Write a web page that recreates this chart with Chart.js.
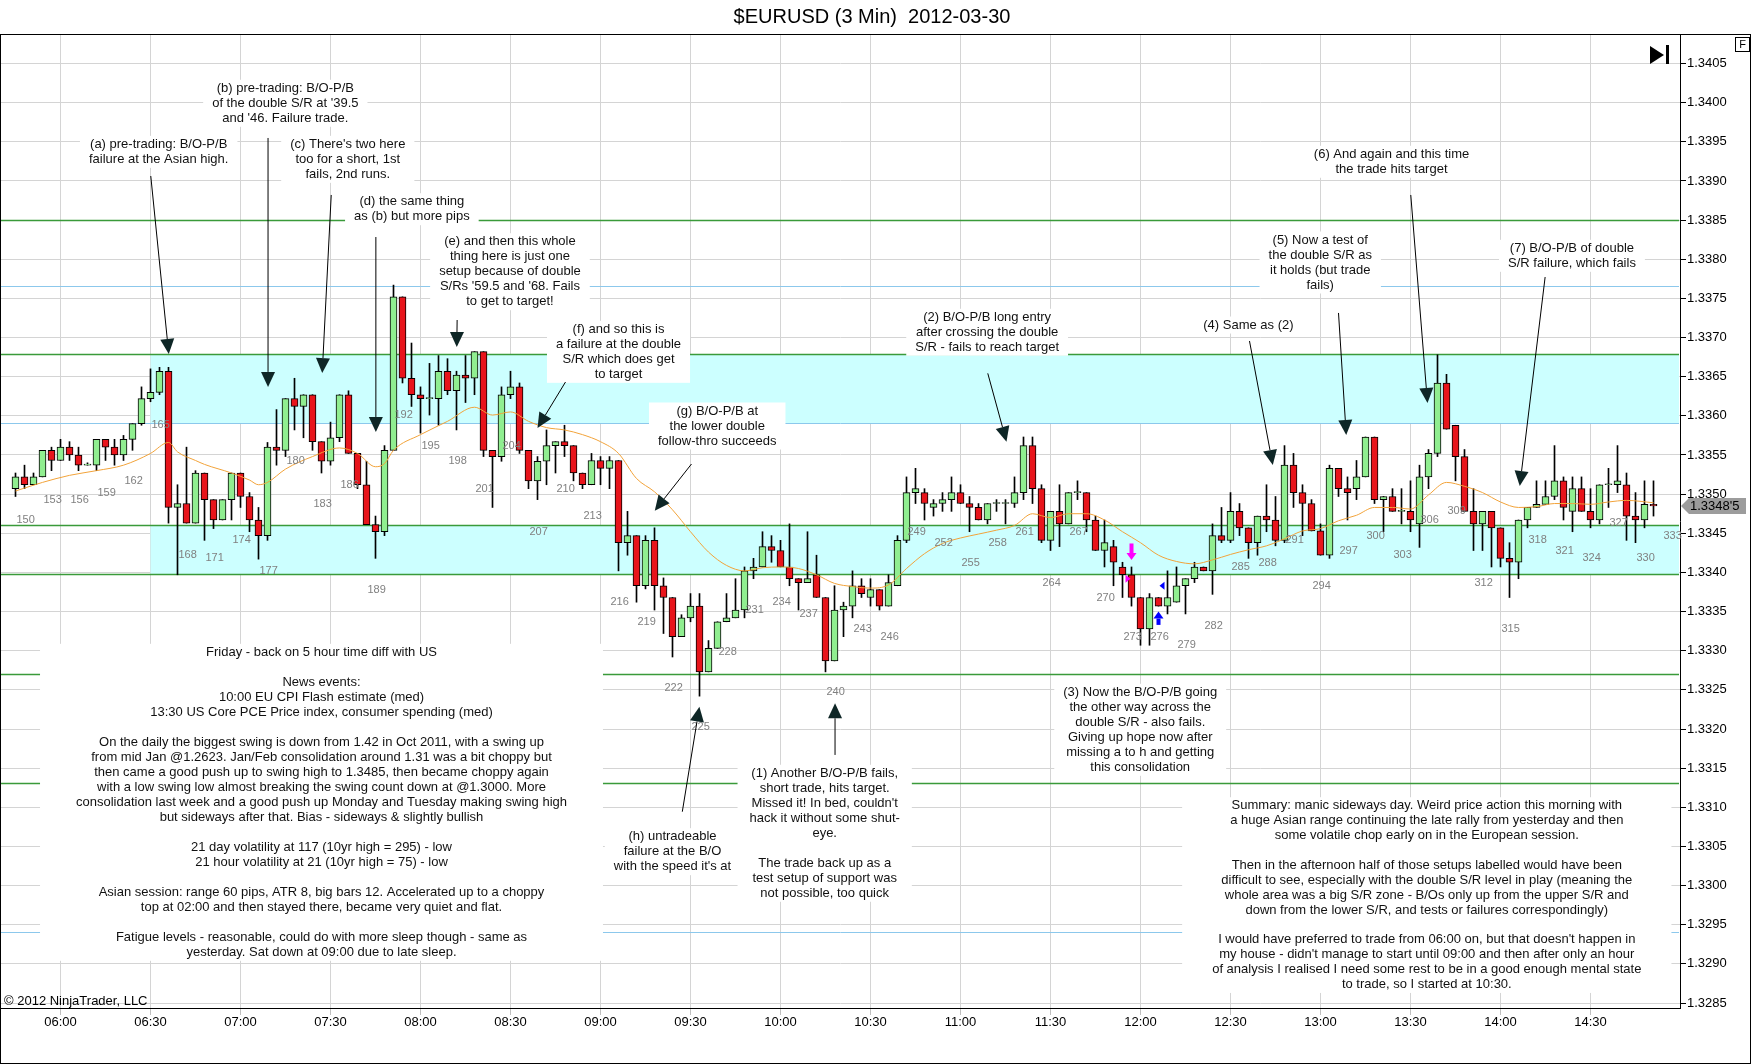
<!DOCTYPE html>
<html>
<head>
<meta charset="utf-8">
<title>$EURUSD (3 Min) 2012-03-30</title>
<script src="https://cdn.jsdelivr.net/npm/chart.js@4.4.1/dist/chart.umd.min.js"></script>
<style>
  html, body { margin: 0; padding: 0; background: #fff; }
  canvas { display: block; }
</style>
</head>
<body>
<canvas id="chart" width="1752" height="1064"></canvas>
<script>
// 3 minute bars, bar number 150 to 332
const firstBar = 150;
const openPrices = [
  1.33507, 1.33522, 1.33512, 1.33522, 1.33556, 1.33543, 1.33560, 1.33550, 1.33537, 1.33537,
  1.33570, 1.33560, 1.33550, 1.33570, 1.33590, 1.33622, 1.33630, 1.33657, 1.33483, 1.33488,
  1.33463, 1.33527, 1.33493, 1.33467, 1.33493, 1.33527, 1.33497, 1.33467, 1.33447, 1.33560,
  1.33556, 1.33622, 1.33612, 1.33627, 1.33567, 1.33542, 1.33572, 1.33627, 1.33552, 1.33512,
  1.33461, 1.33452, 1.33556, 1.33752, 1.33648, 1.33627, 1.33622, 1.33622, 1.33657, 1.33632,
  1.33652, 1.33648, 1.33682, 1.33556, 1.33548, 1.33627, 1.33637, 1.33556, 1.33517, 1.33542,
  1.33562, 1.33567, 1.33562, 1.33527, 1.33512, 1.33543, 1.33533, 1.33543, 1.33438, 1.33447,
  1.33383, 1.33441, 1.33383, 1.33368, 1.33318, 1.33342, 1.33357, 1.33273, 1.33303, 1.33337,
  1.33342, 1.33352, 1.33402, 1.33407, 1.33433, 1.33428, 1.33407, 1.33392, 1.33387, 1.33397,
  1.33368, 1.33287, 1.33352, 1.33357, 1.33383, 1.33368, 1.33378, 1.33357, 1.33383, 1.33441,
  1.33502, 1.33502, 1.33483, 1.33488, 1.33493, 1.33502, 1.33488, 1.33483, 1.33467, 1.33488,
  1.33488, 1.33488, 1.33502, 1.33562, 1.33507, 1.33441, 1.33478, 1.33462, 1.33502, 1.33502,
  1.33467, 1.33428, 1.33433, 1.33407, 1.33397, 1.33368, 1.33328, 1.33368, 1.33357, 1.33362,
  1.33383, 1.33392, 1.33407, 1.33402, 1.33447, 1.33441, 1.33478, 1.33457, 1.33438, 1.33472,
  1.33467, 1.33441, 1.33537, 1.33502, 1.33488, 1.33453, 1.33422, 1.33533, 1.33507, 1.33507,
  1.33522, 1.33573, 1.33493, 1.33497, 1.33478, 1.33478, 1.33462, 1.33522, 1.33552, 1.33642,
  1.33588, 1.33548, 1.33478, 1.33462, 1.33478, 1.33457, 1.33418, 1.33413, 1.33467, 1.33483,
  1.33487, 1.33497, 1.33517, 1.33478, 1.33507, 1.33478, 1.33467, 1.33512, 1.33512, 1.33512,
  1.33472, 1.33467, 1.33487
];
const highPrices = [
  1.33527, 1.33537, 1.33527, 1.33556, 1.33560, 1.33570, 1.33567, 1.33560, 1.33540, 1.33570,
  1.33570, 1.33570, 1.33575, 1.33590, 1.33637, 1.33660, 1.33662, 1.33662, 1.33512, 1.33560,
  1.33530, 1.33527, 1.33493, 1.33493, 1.33527, 1.33527, 1.33502, 1.33483, 1.33566, 1.33608,
  1.33622, 1.33648, 1.33627, 1.33627, 1.33567, 1.33592, 1.33627, 1.33632, 1.33552, 1.33542,
  1.33472, 1.33562, 1.33767, 1.33752, 1.33693, 1.33637, 1.33667, 1.33677, 1.33673, 1.33657,
  1.33677, 1.33682, 1.33682, 1.33556, 1.33637, 1.33657, 1.33642, 1.33556, 1.33548, 1.33582,
  1.33567, 1.33588, 1.33562, 1.33527, 1.33552, 1.33548, 1.33548, 1.33543, 1.33478, 1.33447,
  1.33447, 1.33457, 1.33393, 1.33368, 1.33346, 1.33373, 1.33373, 1.33313, 1.33337, 1.33373,
  1.33392, 1.33407, 1.33418, 1.33452, 1.33447, 1.33441, 1.33462, 1.33392, 1.33452, 1.33422,
  1.33368, 1.33383, 1.33362, 1.33402, 1.33392, 1.33392, 1.33378, 1.33397, 1.33447, 1.33522,
  1.33533, 1.33507, 1.33493, 1.33502, 1.33522, 1.33512, 1.33497, 1.33488, 1.33488, 1.33493,
  1.33493, 1.33522, 1.33573, 1.33573, 1.33512, 1.33478, 1.33512, 1.33502, 1.33517, 1.33502,
  1.33472, 1.33467, 1.33441, 1.33413, 1.33407, 1.33368, 1.33373, 1.33368, 1.33402, 1.33407,
  1.33392, 1.33413, 1.33407, 1.33462, 1.33483, 1.33502, 1.33488, 1.33457, 1.33472, 1.33512,
  1.33497, 1.33562, 1.33552, 1.33512, 1.33493, 1.33462, 1.33537, 1.33533, 1.33522, 1.33543,
  1.33573, 1.33573, 1.33497, 1.33507, 1.33507, 1.33517, 1.33537, 1.33557, 1.33678, 1.33653,
  1.33588, 1.33557, 1.33507, 1.33478, 1.33478, 1.33457, 1.33438, 1.33467, 1.33483, 1.33517,
  1.33517, 1.33562, 1.33522, 1.33522, 1.33522, 1.33507, 1.33512, 1.33533, 1.33562, 1.33527,
  1.33502, 1.33517, 1.33517
];
const lowPrices = [
  1.33497, 1.33507, 1.33512, 1.33522, 1.33530, 1.33543, 1.33543, 1.33530, 1.33537, 1.33530,
  1.33543, 1.33537, 1.33543, 1.33556, 1.33588, 1.33618, 1.33627, 1.33463, 1.33397, 1.33463,
  1.33463, 1.33441, 1.33456, 1.33467, 1.33467, 1.33483, 1.33452, 1.33417, 1.33441, 1.33537,
  1.33548, 1.33582, 1.33572, 1.33556, 1.33527, 1.33537, 1.33567, 1.33552, 1.33507, 1.33461,
  1.33418, 1.33447, 1.33556, 1.33642, 1.33612, 1.33578, 1.33601, 1.33588, 1.33627, 1.33582,
  1.33617, 1.33627, 1.33548, 1.33483, 1.33542, 1.33622, 1.33552, 1.33507, 1.33493, 1.33512,
  1.33527, 1.33548, 1.33517, 1.33507, 1.33512, 1.33512, 1.33507, 1.33402, 1.33422, 1.33362,
  1.33379, 1.33352, 1.33322, 1.33292, 1.33318, 1.33337, 1.33242, 1.33273, 1.33303, 1.33337,
  1.33342, 1.33342, 1.33392, 1.33407, 1.33413, 1.33407, 1.33383, 1.33352, 1.33387, 1.33368,
  1.33273, 1.33287, 1.33318, 1.33342, 1.33368, 1.33357, 1.33352, 1.33357, 1.33383, 1.33438,
  1.33488, 1.33467, 1.33472, 1.33478, 1.33478, 1.33488, 1.33452, 1.33467, 1.33462, 1.33478,
  1.33462, 1.33483, 1.33493, 1.33488, 1.33438, 1.33428, 1.33433, 1.33462, 1.33493, 1.33452,
  1.33428, 1.33407, 1.33383, 1.33368, 1.33357, 1.33307, 1.33307, 1.33357, 1.33347, 1.33362,
  1.33347, 1.33387, 1.33402, 1.33372, 1.33438, 1.33438, 1.33447, 1.33418, 1.33422, 1.33452,
  1.33434, 1.33438, 1.33483, 1.33447, 1.33453, 1.33422, 1.33418, 1.33497, 1.33467, 1.33493,
  1.33522, 1.33488, 1.33452, 1.33478, 1.33462, 1.33452, 1.33432, 1.33507, 1.33548, 1.33583,
  1.33517, 1.33478, 1.33428, 1.33428, 1.33407, 1.33407, 1.33368, 1.33392, 1.33457, 1.33483,
  1.33487, 1.33493, 1.33467, 1.33452, 1.33478, 1.33457, 1.33462, 1.33483, 1.33502, 1.33441,
  1.33438, 1.33457, 1.33472
];
const closePrices = [
  1.33522, 1.33512, 1.33522, 1.33556, 1.33543, 1.33560, 1.33550, 1.33537, 1.33537, 1.33570,
  1.33560, 1.33550, 1.33570, 1.33590, 1.33622, 1.33630, 1.33657, 1.33483, 1.33488, 1.33463,
  1.33527, 1.33493, 1.33467, 1.33493, 1.33527, 1.33497, 1.33467, 1.33447, 1.33560, 1.33556,
  1.33622, 1.33612, 1.33627, 1.33567, 1.33542, 1.33572, 1.33627, 1.33552, 1.33512, 1.33461,
  1.33452, 1.33556, 1.33752, 1.33648, 1.33627, 1.33622, 1.33622, 1.33657, 1.33632, 1.33652,
  1.33648, 1.33682, 1.33556, 1.33548, 1.33627, 1.33637, 1.33556, 1.33517, 1.33542, 1.33562,
  1.33567, 1.33562, 1.33527, 1.33512, 1.33543, 1.33533, 1.33543, 1.33438, 1.33447, 1.33383,
  1.33441, 1.33383, 1.33368, 1.33318, 1.33342, 1.33357, 1.33273, 1.33303, 1.33337, 1.33342,
  1.33352, 1.33402, 1.33407, 1.33433, 1.33428, 1.33407, 1.33392, 1.33387, 1.33392, 1.33368,
  1.33287, 1.33352, 1.33357, 1.33383, 1.33373, 1.33378, 1.33357, 1.33387, 1.33441, 1.33502,
  1.33507, 1.33488, 1.33488, 1.33493, 1.33502, 1.33488, 1.33483, 1.33467, 1.33488, 1.33488,
  1.33488, 1.33502, 1.33562, 1.33507, 1.33441, 1.33478, 1.33462, 1.33502, 1.33502, 1.33467,
  1.33428, 1.33438, 1.33413, 1.33397, 1.33368, 1.33328, 1.33368, 1.33357, 1.33368, 1.33383,
  1.33392, 1.33407, 1.33402, 1.33447, 1.33441, 1.33478, 1.33457, 1.33438, 1.33472, 1.33467,
  1.33441, 1.33537, 1.33502, 1.33488, 1.33453, 1.33422, 1.33533, 1.33507, 1.33502, 1.33522,
  1.33573, 1.33493, 1.33497, 1.33478, 1.33478, 1.33467, 1.33522, 1.33552, 1.33642, 1.33583,
  1.33548, 1.33478, 1.33462, 1.33478, 1.33457, 1.33418, 1.33413, 1.33467, 1.33483, 1.33487,
  1.33497, 1.33517, 1.33483, 1.33507, 1.33478, 1.33467, 1.33512, 1.33512, 1.33517, 1.33472,
  1.33467, 1.33487, 1.33485
];
const barNumbers = openPrices.map((_, i) => firstBar + i);

// moving average line (orange)
const emaBars = [150, 153, 156, 159, 162, 165, 167, 168, 170, 171, 174, 176, 177, 178, 180, 183, 186, 188, 190, 191,
  192, 195, 198, 201, 203, 205, 207, 209, 211, 213, 215, 217, 219, 221, 223, 225, 227, 229, 231, 233,
  235, 237, 239, 241, 243, 245, 247, 249, 251, 253, 255, 257, 259, 261, 263, 265, 267, 269, 271, 273,
  275, 277, 279, 281, 283, 285, 287, 289, 291, 293, 295, 297, 299, 301, 303, 305, 307, 309, 311, 313,
  315, 317, 319, 321, 323, 325, 327, 329, 332];
const emaValues = [1.33504, 1.33515, 1.33524, 1.33530, 1.33537, 1.33552, 1.33566, 1.33554, 1.33543, 1.33538,
  1.33527, 1.33518, 1.33512, 1.33515, 1.33532, 1.33548, 1.33559, 1.33552, 1.33535, 1.33539,
  1.33556, 1.33576, 1.33593, 1.33611, 1.33601, 1.33605, 1.33593, 1.33585, 1.33582, 1.33576,
  1.33567, 1.33552, 1.33520, 1.33503, 1.33480, 1.33452, 1.33426, 1.33409, 1.33402, 1.33406,
  1.33407, 1.33405, 1.33397, 1.33386, 1.33382, 1.33380, 1.33384, 1.33405, 1.33424, 1.33437,
  1.33444, 1.33449, 1.33454, 1.33460, 1.33475, 1.33470, 1.33475, 1.33475, 1.33467, 1.33452,
  1.33438, 1.33422, 1.33414, 1.33411, 1.33416, 1.33423, 1.33429, 1.33434, 1.33443, 1.33453,
  1.33456, 1.33466, 1.33473, 1.33483, 1.33483, 1.33481, 1.33499, 1.33515, 1.33510, 1.33502,
  1.33490, 1.33483, 1.33484, 1.33488, 1.33488, 1.33487, 1.33490, 1.33492, 1.33489];

// bar number labels every 3 bars and the price level they sit at
const labelBars = [150, 153, 156, 159, 162, 165, 168, 171, 174, 177, 180, 183, 186, 189, 192, 195, 198, 201, 204, 207,
  210, 213, 216, 219, 222, 225, 228, 231, 234, 237, 240, 243, 246, 249, 252, 255, 258, 261, 264, 267,
  270, 273, 276, 279, 282, 285, 288, 291, 294, 297, 300, 303, 306, 309, 312, 315, 318, 321, 324, 327,
  330, 333];
const labelLevels = [1.33467, 1.33493, 1.33493, 1.33502, 1.33517, 1.33588, 1.33422, 1.33418, 1.33441, 1.33402,
  1.33542, 1.33487, 1.33512, 1.33377, 1.33601, 1.33562, 1.33542, 1.33507, 1.33562, 1.33452,
  1.33507, 1.33472, 1.33362, 1.33337, 1.33252, 1.33202, 1.33298, 1.33352, 1.33362, 1.33347,
  1.33247, 1.33328, 1.33318, 1.33452, 1.33438, 1.33412, 1.33438, 1.33452, 1.33387, 1.33452,
  1.33368, 1.33318, 1.33318, 1.33308, 1.33332, 1.33407, 1.33412, 1.33441, 1.33383, 1.33428,
  1.33447, 1.33422, 1.33467, 1.33478, 1.33387, 1.33328, 1.33441, 1.33428, 1.33418, 1.33463,
  1.33418, 1.33447];

// axis ticks
const timeBars = [155, 165, 175, 185, 195, 205, 215, 225, 235, 245, 255, 265, 275, 285, 295, 305, 315, 325];
const timeLabels = ['06:00', '06:30', '07:00', '07:30', '08:00', '08:30', '09:00', '09:30', '10:00',
  '10:30', '11:00', '11:30', '12:00', '12:30', '13:00', '13:30', '14:00', '14:30'];
const priceTicks = [1.3285, 1.3290, 1.3295, 1.3300, 1.3305, 1.3310, 1.3315, 1.3320, 1.3325, 1.3330,
  1.3335, 1.3340, 1.3345, 1.3350, 1.3355, 1.3360, 1.3365, 1.3370, 1.3375, 1.3380,
  1.3385, 1.3390, 1.3395, 1.3400, 1.3405];

// drawn support / resistance levels
const greenLevels = [1.3385, 1.33678, 1.3346, 1.33397, 1.3327, 1.3313];
const blueLevels = [1.33765, 1.3359, 1.3294];
const zoneStartBar = 165;
const upperZone = [1.3359, 1.33678];
const lowerZone = [1.33397, 1.3346];
const lastPrice = 1.33485;

// text notes: centre bar, price of first line
const notes = [
  { bar: 165.91, price: 1.339468, lines: ['(a) pre-trading: B/O-P/B', 'failure at the Asian high.'] },
  { bar: 179.98, price: 1.340184, lines: ['(b) pre-trading: B/O-P/B', "of the double S/R at '39.5", "and '46. Failure trade."] },
  { bar: 186.92, price: 1.339468, lines: ["(c) There's two here", 'too for a short, 1st', 'fails, 2nd runs.'] },
  { bar: 194.04, price: 1.338735, lines: ['(d) the same thing', 'as (b) but more pips'] },
  { bar: 204.94, price: 1.338224, lines: ['(e) and then this whole', 'thing here is just one', 'setup because of double', "S/Rs '59.5 and '68. Fails", 'to get to target!'] },
  { bar: 217.0, price: 1.337105, lines: ['(f) and so this is', 'a failure at the double', 'S/R which does get', 'to target'] },
  { bar: 227.97, price: 1.336062, lines: ['(g) B/O-P/B at', 'the lower double', 'follow-thro succeeds'] },
  { bar: 223.0, price: 1.330625, lines: ['(h) untradeable', 'failure at the B/O', "with the speed it's at"] },
  { bar: 239.91, price: 1.331435, pad: 12, lines: ['(1) Another B/O-P/B fails,', 'short trade, hits target.', "Missed it! In bed, couldn't", 'hack it without some shut-', 'eye.', '', 'The trade back up as a', 'test setup of support was', 'not possible, too quick'] },
  { bar: 257.96, price: 1.337259, lines: ['(2) B/O-P/B long entry', 'after crossing the double', 'S/R - fails to reach target'] },
  { bar: 274.97, price: 1.332469, lines: ['(3) Now the B/O-P/B going', 'the other way across the', 'double S/R - also fails.', 'Giving up hope now after', 'missing a to h and getting', 'this consolidation'] },
  { bar: 286.99, price: 1.337160, lines: ['(4) Same as (2)'] },
  { bar: 294.97, price: 1.338246, lines: ['(5) Now a test of', 'the double S/R as', 'it holds (but trade', 'fails)'] },
  { bar: 302.89, price: 1.339341, lines: ['(6) And again and this time', 'the trade hits target'] },
  { bar: 322.94, price: 1.338140, lines: ['(7) B/O-P/B of double', 'S/R failure, which fails'] },
  { bar: 184.0, price: 1.332980, pad: 36, lines: [
    'Friday - back on 5 hour time diff with US', '', 'News events:', '10:00 EU CPI Flash estimate (med)',
    '13:30 US Core PCE Price index, consumer spending (med)', '',
    'On the daily the biggest swing is down from 1.42 in Oct 2011, with a swing up',
    'from mid Jan @1.2623. Jan/Feb consolidation around 1.31 was a bit choppy but',
    'then came a good push up to swing high to 1.3485, then became choppy again',
    'with a low swing low almost breaking the swing count down at @1.3000. More',
    'consolidation last week and a good push up Monday and Tuesday making swing high',
    'but sideways after that. Bias - sideways & slightly bullish', '',
    '21 day volatility at 117 (10yr high = 295) - low', '21 hour volatility at 21 (10yr high = 75) - low', '',
    'Asian session: range 60 pips, ATR 8, big bars 12. Accelerated up to a choppy',
    'top at 02:00 and then stayed there, became very quiet and flat.', '',
    'Fatigue levels - reasonable, could do with more sleep though - same as',
    'yesterday. Sat down at 09:00 due to late sleep.'] },
  { bar: 306.81, price: 1.331021, pad: 30, lineH: 14.9, lines: [
    'Summary: manic sideways day. Weird price action this morning with',
    'a huge Asian range continuing the late rally from yesterday and then',
    'some volatile chop early on in the European session.', '',
    'Then in the afternoon half of those setups labelled would have been',
    'difficult to see, especially with the double S/R level in play (meaning the',
    'whole area was a big S/R zone - B/Os only up from the upper S/R and',
    'down from the lower S/R, and tests or failures correspondingly)', '',
    "I would have preferred to trade from 06:00 on, but that doesn't happen in",
    "my house - didn't manage to start until 09:00 and then after only an hour",
    'of analysis I realised I need some rest to be in a good enough mental state',
    'to trade, so I started at 10:30.'] }
];

// arrows: start bar/price -> tip bar/price
const arrows = [
  [165.03, 1.339063, 167.03, 1.336790],
  [178.06, 1.339549, 178.06, 1.336369],
  [185.08, 1.338821, 184.08, 1.336547],
  [190.04, 1.338284, 190.04, 1.335794],
  [199.07, 1.337224, 199.03, 1.336879],
  [211.11, 1.336432, 208.0, 1.335845],
  [225.11, 1.335385, 221.03, 1.334789],
  [224.09, 1.330944, 225.99, 1.332286],
  [241.06, 1.331669, 241.06, 1.332329],
  [258.03, 1.336543, 260.11, 1.335670],
  [287.11, 1.336956, 289.70, 1.335372],
  [297.0, 1.337314, 297.86, 1.335755],
  [305.03, 1.338821, 306.89, 1.336164],
  [319.96, 1.337773, 317.14, 1.335104]
];

const FONT = '"Liberation Sans", Arial, sans-serif';
Chart.defaults.font.family = FONT;
Chart.defaults.font.size = 13;
Chart.defaults.color = '#000';

// same pixel snapping as the chart's own grid lines
const snap = p => Math.round(p - 0.5) + 0.5;

function drawArrow(ctx, x1, y1, x2, y2) {
  const ang = Math.atan2(y2 - y1, x2 - x1);
  const len = 15, half = 7;
  const bx = x2 - len * Math.cos(ang), by = y2 - len * Math.sin(ang);
  ctx.strokeStyle = '#000';
  ctx.lineWidth = 1;
  ctx.beginPath();
  ctx.moveTo(x1, y1);
  ctx.lineTo(bx, by);
  ctx.stroke();
  ctx.fillStyle = '#0e2626';
  ctx.beginPath();
  ctx.moveTo(x2, y2);
  ctx.lineTo(bx + half * Math.sin(ang), by - half * Math.cos(ang));
  ctx.lineTo(bx - half * Math.sin(ang), by + half * Math.cos(ang));
  ctx.closePath();
  ctx.fill();
}

const overlay = {
  id: 'overlay',
  beforeDatasetsDraw(chart) {
    const { ctx, chartArea: a, scales: { x, y } } = chart;
    ctx.save();
    ctx.beginPath();
    ctx.rect(a.left, a.top, a.right - a.left - 1, a.bottom - a.top);
    ctx.clip();

    // zones
    ctx.fillStyle = '#CCFFFF';
    const zx = x.getPixelForValue(zoneStartBar);
    [upperZone, lowerZone].forEach(z => {
      const top = y.getPixelForValue(z[1]), bot = y.getPixelForValue(z[0]);
      ctx.fillRect(zx, top, a.right - zx, bot - top);
    });

    // level lines
    ctx.lineWidth = 1.3;
    ctx.strokeStyle = '#3A9A3A';
    greenLevels.forEach(p => {
      const yy = snap(y.getPixelForValue(p));
      ctx.beginPath(); ctx.moveTo(a.left, yy); ctx.lineTo(a.right, yy); ctx.stroke();
    });
    ctx.lineWidth = 1;
    ctx.strokeStyle = '#8CC8EC';
    blueLevels.forEach(p => {
      const yy = snap(y.getPixelForValue(p));
      ctx.beginPath(); ctx.moveTo(a.left, yy); ctx.lineTo(a.right, yy); ctx.stroke();
    });

    // text notes with white backgrounds
    ctx.font = '13px ' + FONT;
    ctx.textAlign = 'center';
    ctx.textBaseline = 'middle';
    notes.forEach(n => {
      const lh = n.lineH || 15;
      const pad = n.pad || 9;
      const cx = x.getPixelForValue(n.bar);
      const y1 = y.getPixelForValue(n.price);
      const w = Math.max(...n.lines.map(l => ctx.measureText(l).width));
      ctx.fillStyle = '#fff';
      ctx.fillRect(cx - w / 2 - pad, y1 - lh / 2 - 1, w + 2 * pad, n.lines.length * lh + 2);
      ctx.fillStyle = '#111';
      n.lines.forEach((l, i) => ctx.fillText(l, cx, y1 + i * lh));
    });
    ctx.restore();
  },
  afterDatasetsDraw(chart) {
    const { ctx, chartArea: a, scales: { x, y } } = chart;
    ctx.save();

    // bar numbers
    ctx.font = '11px ' + FONT;
    ctx.fillStyle = '#808080';
    ctx.textAlign = 'left';
    ctx.textBaseline = 'middle';
    labelBars.forEach((b, i) => {
      ctx.fillText(String(b), x.getPixelForValue(b) + 1, y.getPixelForValue(labelLevels[i]));
    });

    // arrows
    arrows.forEach(r => drawArrow(ctx,
      x.getPixelForValue(r[0]), y.getPixelForValue(r[1]),
      x.getPixelForValue(r[2]), y.getPixelForValue(r[3])));

    // entry markers
    const mx = x.getPixelForValue(274), bx = x.getPixelForValue(277);
    ctx.fillStyle = '#FF00FF';
    let t = y.getPixelForValue(1.33437), b = y.getPixelForValue(1.33416);
    ctx.fillRect(mx - 2, t, 4, b - t - 6);
    ctx.beginPath(); ctx.moveTo(mx - 5, b - 7); ctx.lineTo(mx + 5, b - 7); ctx.lineTo(mx, b); ctx.closePath(); ctx.fill();
    let ty = y.getPixelForValue(1.33392);
    ctx.beginPath(); ctx.moveTo(mx - 6, ty - 4); ctx.lineTo(mx - 1, ty); ctx.lineTo(mx - 6, ty + 4); ctx.closePath(); ctx.fill();
    ctx.fillStyle = '#0000FF';
    t = y.getPixelForValue(1.33350); b = y.getPixelForValue(1.33333);
    ctx.beginPath(); ctx.moveTo(bx, t); ctx.lineTo(bx + 5, t + 7); ctx.lineTo(bx - 5, t + 7); ctx.closePath(); ctx.fill();
    ctx.fillRect(bx - 2, t + 7, 4, b - t - 7);
    ty = y.getPixelForValue(1.33383);
    ctx.beginPath(); ctx.moveTo(bx + 6, ty - 4); ctx.lineTo(bx + 1, ty); ctx.lineTo(bx + 6, ty + 4); ctx.closePath(); ctx.fill();

    // copyright
    ctx.font = '13px ' + FONT;
    ctx.fillStyle = '#000';
    ctx.fillText('\u00A9 2012 NinjaTrader, LLC', a.left + 3, a.bottom - 7);
    ctx.restore();
  },
  afterDraw(chart) {
    const { ctx, chartArea: a, scales: { y } } = chart;
    ctx.save();
    // title
    ctx.font = '20px ' + FONT;
    ctx.fillStyle = '#000';
    ctx.textAlign = 'center';
    ctx.textBaseline = 'middle';
    ctx.fillText('$EURUSD (3 Min)  2012-03-30', 872, 17);

    // frame
    ctx.strokeStyle = '#000';
    ctx.lineWidth = 1;
    ctx.strokeRect(0.5, a.top + 0.5, 1750, 1063 - a.top);

    // F box and jump-to-end icon
    ctx.strokeRect(1735.5, 37.5, 14, 14);
    ctx.font = '11px ' + FONT;
    ctx.fillText('F', 1742.5, 45);
    ctx.beginPath();
    ctx.moveTo(1650, 46); ctx.lineTo(1664, 55); ctx.lineTo(1650, 64); ctx.closePath();
    ctx.fill();
    ctx.fillRect(1666, 45, 3, 19);

    // last price marker
    const py = y.getPixelForValue(lastPrice);
    ctx.fillStyle = '#9C9C9C';
    ctx.beginPath();
    ctx.moveTo(a.right + 1, py);
    ctx.lineTo(a.right + 9, py - 8);
    ctx.lineTo(1746, py - 8);
    ctx.lineTo(1746, py + 8);
    ctx.lineTo(a.right + 9, py + 8);
    ctx.closePath();
    ctx.fill();
    ctx.fillStyle = '#000';
    ctx.font = '13px ' + FONT;
    ctx.textAlign = 'left';
    ctx.fillText("1.3348'5", a.right + 10, py + 1);
    ctx.restore();
  }
};

const xMin = 150 - 14.5 / 9;
const xMax = xMin + 1679 / 9;

new Chart(document.getElementById('chart'), {
  type: 'bar',
  data: {
    datasets: [
      {
        type: 'line',
        label: 'MA',
        data: emaBars.map((b, i) => ({ x: b, y: emaValues[i] })),
        borderColor: '#F2A33A',
        borderWidth: 1,
        pointRadius: 0,
        cubicInterpolationMode: 'monotone',
        order: 0
      },
      {
        label: 'wicks',
        data: barNumbers.map((b, i) => ({ x: b, y: [lowPrices[i], highPrices[i]] })),
        backgroundColor: '#000',
        barThickness: 1,
        grouped: false,
        order: 2
      },
      {
        label: 'bodies',
        data: barNumbers.map((b, i) => ({ x: b, y: [openPrices[i], closePrices[i]] })),
        backgroundColor: c => {
          const i = c.dataIndex;
          if (i === undefined) return '#90EE90';
          return closePrices[i] >= openPrices[i] ? '#90EE90' : '#E8141B';
        },
        borderColor: '#000',
        borderWidth: 1,
        borderSkipped: false,
        barThickness: 7,
        minBarLength: 1,
        grouped: false,
        order: 1
      }
    ]
  },
  options: {
    responsive: false,
    animation: false,
    devicePixelRatio: 1,
    layout: { padding: { top: 34, left: 1, right: 0, bottom: 0 } },
    plugins: { legend: { display: false }, tooltip: { enabled: false }, title: { display: false } },
    scales: {
      x: {
        type: 'linear',
        min: xMin,
        max: xMax,
        offset: false,
        grid: { color: '#D4D4D4', offset: false, tickColor: '#C0C0C0', tickLength: 7 },
        border: { color: '#000' },
        ticks: { autoSkip: false, maxRotation: 0, padding: 0, callback: (v, i) => timeLabels[i] },
        afterBuildTicks: s => { s.ticks = timeBars.map(v => ({ value: v })); },
        afterFit: s => { s.height = 56; }
      },
      y: {
        position: 'right',
        min: 1.328437,
        max: 1.340877,
        grid: { color: '#D4D4D4', tickColor: '#000', tickLength: 6 },
        border: { color: '#000' },
        ticks: { padding: 1, callback: v => Number(v).toFixed(4) },
        afterBuildTicks: s => { s.ticks = priceTicks.map(v => ({ value: v })); },
        afterFit: s => { s.width = 72; }
      }
    }
  },
  plugins: [overlay]
});
</script>
</body>
</html>
